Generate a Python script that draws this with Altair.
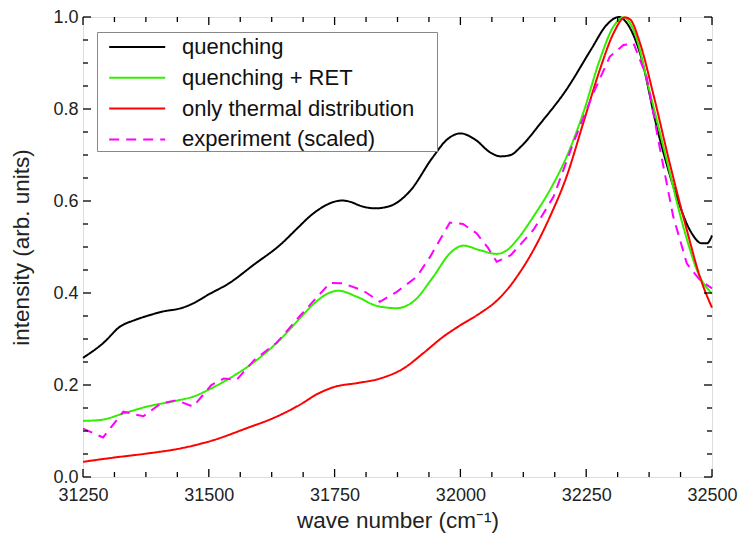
import altair as alt
import pandas as pd

# ---------------- data ----------------
series_names = ["quenching", "quenching + RET", "only thermal distribution", "experiment (scaled)"]
series_colors = ["#000000", "#33ee00", "#ff0000", "#ff00ff"]
series_dashes = [[1, 0], [1, 0], [1, 0], [10, 7]]

q_wn = [31250, 31290, 31325, 31350, 31377, 31410, 31445, 31470, 31500, 31540, 31590, 31640,
        31680, 31700, 31725, 31748, 31765, 31782, 31800, 31830, 31860, 31900, 31945, 31975, 32000,
        32030, 32060, 32080, 32100, 32120, 32160, 32210, 32260, 32290, 32315, 32330, 32357,
        32390, 32430, 32456, 32480, 32490, 32500]
q_val = [0.259, 0.291, 0.328, 0.340, 0.350, 0.360, 0.367, 0.378, 0.397, 0.421, 0.462, 0.503,
         0.545, 0.566, 0.586, 0.598, 0.601, 0.598, 0.590, 0.584, 0.589, 0.622, 0.695, 0.735, 0.747,
         0.733, 0.705, 0.697, 0.700, 0.718, 0.770, 0.841, 0.930, 0.982, 1.000, 0.988, 0.921,
         0.762, 0.609, 0.537, 0.508, 0.508, 0.525]

r_wn = [31250, 31285, 31330, 31377, 31436, 31470, 31500, 31542, 31595, 31641, 31681, 31710,
        31735, 31757, 31794, 31834, 31873, 31906, 31946, 31979, 32006, 32039, 32072, 32095,
        32112, 32145, 32178, 32211, 32244, 32277, 32304, 32324, 32344, 32377, 32410, 32443,
        32476, 32500]
r_val = [0.122, 0.124, 0.138, 0.153, 0.166, 0.175, 0.190, 0.215, 0.254, 0.298, 0.345, 0.378,
         0.398, 0.405, 0.392, 0.372, 0.367, 0.381, 0.435, 0.486, 0.503, 0.493, 0.485, 0.495,
         0.515, 0.566, 0.624, 0.696, 0.791, 0.907, 0.979, 0.999, 0.972, 0.834, 0.689, 0.544,
         0.435, 0.399]

t_wn = [31250, 31310, 31377, 31443, 31509, 31575, 31628, 31681, 31715, 31750, 31794, 31840,
        31887, 31926, 31966, 32000, 32039, 32072, 32095, 32112, 32145, 32178, 32211, 32244,
        32277, 32304, 32327, 32337, 32357, 32383, 32416, 32450, 32476, 32500]
t_val = [0.033, 0.042, 0.051, 0.062, 0.080, 0.106, 0.128, 0.157, 0.180, 0.196, 0.204, 0.214,
         0.236, 0.269, 0.305, 0.330, 0.356, 0.383, 0.410, 0.435, 0.493, 0.566, 0.653, 0.769,
         0.885, 0.964, 0.999, 0.995, 0.943, 0.834, 0.682, 0.537, 0.435, 0.368]

e_wn = [31250, 31290, 31330, 31370, 31405, 31436, 31469, 31505, 31530, 31555, 31590, 31635,
        31681, 31710, 31741, 31767, 31807, 31840, 31873, 31913, 31940, 31979, 32005, 32032,
        32055, 32072, 32100, 32145, 32185, 32224, 32264, 32297, 32324, 32344, 32370, 32397,
        32423, 32450, 32476, 32500]
e_val = [0.105, 0.086, 0.142, 0.132, 0.160, 0.167, 0.153, 0.200, 0.214, 0.211, 0.254, 0.292,
         0.350, 0.385, 0.422, 0.421, 0.405, 0.381, 0.402, 0.435, 0.479, 0.553, 0.550, 0.530,
         0.498, 0.468, 0.482, 0.537, 0.609, 0.725, 0.834, 0.914, 0.939, 0.943, 0.870, 0.711,
         0.566, 0.464, 0.428, 0.410]

x_major = [31250, 31500, 31750, 32000, 32250, 32500]
x_minor = [31312.5, 31375, 31437.5, 31562.5, 31625, 31687.5, 31812.5, 31875, 31937.5,
           32062.5, 32125, 32187.5, 32312.5, 32375, 32437.5]
y_major = [0.0, 0.2, 0.4, 0.6, 0.8, 1.0]
y_minor = [0.05, 0.1, 0.15, 0.25, 0.3, 0.35, 0.45, 0.5, 0.55, 0.65, 0.7, 0.75, 0.85, 0.9, 0.95]

# ---------------- build tables ----------------
W, H = 629, 460
FONT = "Liberation Sans"

def table(name, wn, val):
    return pd.DataFrame({"series": name, "wn": wn, "val": val})

models = pd.concat([table(series_names[0], q_wn, q_val),
                    table(series_names[1], r_wn, r_val),
                    table(series_names[2], t_wn, t_val)], ignore_index=True)
expt = table(series_names[3], e_wn, e_val)

xscale = alt.Scale(domain=[31250, 32500], nice=False, zero=False)
yscale = alt.Scale(domain=[0, 1], nice=False, zero=False)
cscale = alt.Scale(domain=series_names, range=series_colors)
dscale = alt.Scale(domain=series_names, range=series_dashes)

leg = alt.Legend(title=None, orient="none", legendX=14, legendY=15,
                 symbolType="M-0.2,0H3.8", symbolStrokeWidth=2, symbolSize=784,
                 labelFontSize=22, labelFont=FONT, labelColor="#111", labelLimit=500,
                 labelExpr="datum.label + '\u2002\u2002\u200b'",
                 padding=0, rowPadding=4.8, labelOffset=55,
                 strokeColor="#888", fillColor="white", cornerRadius=0)

xaxis = alt.Axis(values=x_major, format="d", ticks=False, tickSize=0, domain=False, grid=False,
                 labelFlush=False,
                 labelFontSize=18, labelFont=FONT, labelColor="#222", labelPadding=9,
                 title="wave number (cm⁻¹)", titleFontSize=22.5, titleFont=FONT,
                 titleFontWeight="normal", titleColor="#222", titlePadding=5)
yaxis = alt.Axis(values=y_major, format=".1f", ticks=False, tickSize=0, domain=False, grid=False,
                 labelFontSize=18, labelFont=FONT, labelColor="#222", labelPadding=5,
                 title="intensity (arb. units)", titleFontSize=22.5, titleFont=FONT,
                 titleFontWeight="normal", titleColor="#222", titlePadding=19)

model_lines = alt.Chart(models).mark_line(strokeWidth=2, interpolate="monotone").encode(
    x=alt.X("wn:Q", scale=xscale, axis=xaxis),
    y=alt.Y("val:Q", scale=yscale, axis=yaxis),
    color=alt.Color("series:N", scale=cscale, legend=leg),
    strokeDash=alt.StrokeDash("series:N", scale=dscale, legend=leg),
    order=alt.Order("wn:Q"),
)

expt_line = alt.Chart(expt).mark_line(strokeWidth=2).encode(
    x=alt.X("wn:Q", scale=xscale, axis=xaxis),
    y=alt.Y("val:Q", scale=yscale, axis=yaxis),
    color=alt.Color("series:N", scale=cscale, legend=leg),
    strokeDash=alt.StrokeDash("series:N", scale=dscale, legend=leg),
    order=alt.Order("wn:Q"),
)

def xticks(vals, length):
    d = pd.DataFrame({"t": vals})
    base = alt.Chart(d).mark_rule(color="black", strokeWidth=1.3)
    bottom = base.encode(x=alt.X("t:Q", scale=xscale, axis=xaxis), y=alt.value(H), y2=alt.value(H - length))
    top = base.encode(x=alt.X("t:Q", scale=xscale, axis=xaxis), y=alt.value(0), y2=alt.value(length))
    return [bottom, top]

def yticks(vals, length):
    d = pd.DataFrame({"t": vals})
    base = alt.Chart(d).mark_rule(color="black", strokeWidth=1.3)
    left = base.encode(y=alt.Y("t:Q", scale=yscale, axis=yaxis), x=alt.value(0), x2=alt.value(length))
    right = base.encode(y=alt.Y("t:Q", scale=yscale, axis=yaxis), x=alt.value(W), x2=alt.value(W - length))
    return [left, right]

tick_layers = xticks(x_major, 8) + xticks(x_minor, 5) + yticks(y_major, 8) + yticks(y_minor, 5)

chart = alt.layer(model_lines, expt_line, *tick_layers).properties(
    width=W, height=H,
    autosize=alt.AutoSizeParams(type="none"),
    padding={"left": 83, "top": 17, "right": 27, "bottom": 58},
).configure_view(stroke="black", strokeWidth=1.5).configure(background="white")

chart.save("out.html", embed_options={"renderer": "svg", "actions": False})
